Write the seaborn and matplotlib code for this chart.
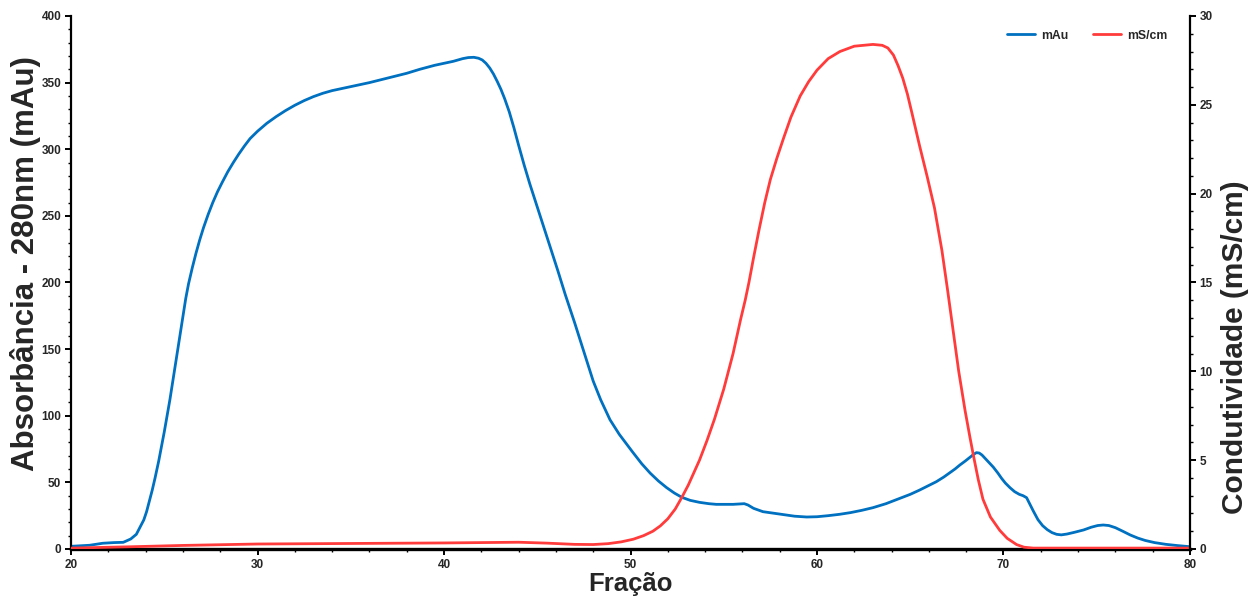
import matplotlib
matplotlib.use("Agg")
import matplotlib.pyplot as plt
from matplotlib.ticker import MultipleLocator
import seaborn as sns
import pandas as pd

# Absorbance trace (mAu) versus fraction number
fracao_mau = [20.0, 21.0, 21.7, 22.3, 22.8, 23.2, 23.5, 23.9, 24.05, 24.2, 24.35, 24.5,
              24.7, 24.85, 25.0, 25.15, 25.3, 25.5, 25.7, 25.85, 26.0, 26.15, 26.3, 26.5,
              26.7, 26.9, 27.1, 27.35, 27.6, 27.85, 28.1, 28.4, 28.7, 29.0, 29.3, 29.6,
              30.0, 30.5, 31.0, 31.5, 32.0, 32.5, 33.0, 33.5, 34.0, 35.0, 36.0, 37.0,
              38.0, 38.7, 39.5, 40.5, 41.0, 41.3, 41.6, 41.85, 42.05, 42.25, 42.45, 42.65,
              42.85, 43.05, 43.25, 43.5, 43.75, 44.0, 44.3, 44.6, 44.9, 45.2, 45.5, 45.8,
              46.1, 46.5, 47.0, 47.5, 48.0, 48.4, 48.9, 49.4, 50.1, 50.6, 51.05, 51.5,
              51.94, 52.35, 52.75, 53.2, 53.7, 54.2, 54.6, 55.5, 56.1, 56.3, 56.6, 57.1,
              57.6, 58.2, 58.8, 59.45, 60.0, 60.6, 61.2, 61.8, 62.4, 63.0, 63.7, 64.45,
              65.0, 65.5, 66.0, 66.4, 66.8, 67.1, 67.4, 67.66, 67.95, 68.2, 68.4, 68.55,
              68.7, 68.85, 69.05, 69.25, 69.45, 69.7, 69.9, 70.1, 70.35, 70.6, 70.85, 71.05,
              71.24, 71.4, 71.6, 71.85, 72.1, 72.35, 72.6, 72.85, 73.1, 73.4, 73.8, 74.3,
              74.7, 75.05, 75.35, 75.65, 76.0, 76.4, 76.8, 77.2, 77.6, 78.1, 78.7, 79.3,
              80.0]
mau = [2.0, 2.8, 4.3, 4.8, 5.0, 7.5, 11.0, 21.8, 28.0, 36.0, 44.0, 53.0,
       66.0, 77.0, 88.0, 100.0, 112.0, 130.0, 148.0, 162.0, 175.0, 188.0, 199.0, 211.0,
       222.0, 232.0, 241.0, 251.0, 260.0, 268.0, 275.0, 283.0, 290.0, 296.5, 302.5, 308.0,
       313.5, 319.5, 324.5, 329.0, 333.0, 336.5, 339.5, 342.0, 344.0, 347.0, 350.0, 353.5,
       357.0, 360.0, 363.0, 366.0, 368.0, 368.8, 369.0, 368.3, 367.0, 364.5, 361.0, 356.5,
       351.0, 345.0, 338.0, 328.0, 316.0, 303.0, 288.0, 274.0, 261.0, 248.0, 235.0, 222.0,
       209.0, 191.0, 170.0, 148.0, 126.0, 112.0, 97.0, 86.0, 73.0, 64.0, 57.0, 51.0,
       46.0, 42.0, 38.8, 36.5, 35.0, 34.0, 33.5, 33.5, 34.0, 33.0, 30.5, 28.0,
       27.0, 25.8, 24.6, 24.0, 24.2, 25.0, 26.0, 27.3, 29.0, 31.0, 34.0, 38.0,
       41.0, 44.2, 47.7, 50.5, 54.0, 57.0, 60.0, 63.0, 66.0, 68.8, 71.0, 72.3,
       72.0, 70.5, 67.5, 64.5, 61.5, 57.0, 53.0, 49.5, 46.0, 43.0, 41.0, 40.0,
       38.5, 34.0, 28.5, 22.0, 17.5, 14.5, 12.3, 11.0, 10.6, 11.2, 12.5, 14.3,
       16.3, 17.6, 18.0, 17.6, 16.0, 13.3, 10.5, 8.2, 6.4, 4.8, 3.5, 2.6,
       1.7]

# Conductivity trace (mS/cm) versus fraction number
fracao_ms = [20.0, 23.0, 26.0, 30.0, 35.0, 40.0, 44.0, 45.5, 47.0, 48.0, 48.8, 49.5,
             50.15, 50.7, 51.2, 51.6, 52.0, 52.4, 52.75, 53.1, 53.4, 53.7, 54.1, 54.5,
             55.0, 55.5, 55.9, 56.15, 56.35, 56.6, 56.9, 57.2, 57.5, 57.85, 58.2, 58.6,
             59.1, 59.55, 60.0, 60.6, 61.23, 62.0, 63.0, 63.5, 63.8, 64.1, 64.35, 64.6,
             64.85, 65.1, 65.5, 65.9, 66.3, 66.7, 67.0, 67.3, 67.6, 67.94, 68.2, 68.4,
             68.65, 68.9, 69.3, 69.8, 70.2, 70.7, 71.1, 71.6, 80.0]
ms = [0.05, 0.12, 0.2, 0.28, 0.31, 0.34, 0.38, 0.33, 0.26, 0.25, 0.3, 0.4,
      0.55, 0.75, 1.0, 1.3, 1.7, 2.25, 2.9, 3.6, 4.3, 5.0, 6.1, 7.3,
      9.0, 11.0, 12.9, 14.0, 15.0, 16.4, 18.0, 19.5, 20.8, 22.0, 23.1, 24.3,
      25.5, 26.3, 26.95, 27.6, 28.0, 28.3, 28.4, 28.35, 28.2, 27.8, 27.2, 26.5,
      25.6, 24.5, 22.7, 21.0, 19.2, 16.8, 14.6, 12.3, 10.0, 7.8, 6.3, 5.2,
      3.9, 2.8, 1.8, 1.05, 0.6, 0.25, 0.1, 0.05, 0.05]

blue = "#0070C0"
red = "#FF3B3B"

sns.set_theme(style="white")
plt.rcParams["font.family"] = ["Liberation Sans", "DejaVu Sans"]
plt.rcParams["font.weight"] = "bold"

df_mau = pd.DataFrame({"Fração": fracao_mau, "mAu": mau})
df_ms = pd.DataFrame({"Fração": fracao_ms, "mS/cm": ms})

fig = plt.figure(figsize=(12.51, 5.99), dpi=100)
ax = fig.add_axes([0.0568, 0.0835, 0.8944, 0.8898])
ax2 = ax.twinx()

line_kw = dict(lw=2.0, solid_joinstyle="round", solid_capstyle="round")
sns.lineplot(data=df_mau, x="Fração", y="mAu", ax=ax, color=blue,
             label="mAu", legend=False, sort=False, **line_kw)
sns.lineplot(data=df_ms, x="Fração", y="mS/cm", ax=ax2, color=red,
             label="mS/cm", legend=False, sort=False, **line_kw)

ax.set_xlim(20, 80)
ax.set_ylim(0, 400)
ax2.set_ylim(0, 30)

ax.xaxis.set_major_locator(MultipleLocator(10))
ax.xaxis.set_minor_locator(MultipleLocator(2))
ax.yaxis.set_major_locator(MultipleLocator(50))
ax.yaxis.set_minor_locator(MultipleLocator(10))
ax2.yaxis.set_major_locator(MultipleLocator(5))
ax2.yaxis.set_minor_locator(MultipleLocator(1))

for a in (ax, ax2):
    for s in a.spines.values():
        s.set_color("black")
        s.set_linewidth(1.6)
    a.spines["top"].set_visible(False)
    a.tick_params(which="major", direction="out", length=4, width=1.4,
                  color="black", labelsize=8.5, pad=3)
    a.tick_params(which="minor", direction="out", length=2.5, width=1.0,
                  color="black")
ax.spines["bottom"].set_linewidth(2.4)
ax.spines["right"].set_visible(False)
ax2.spines["left"].set_visible(False)
ax2.spines["bottom"].set_visible(False)
ax.tick_params(axis="x", which="both", bottom=True)
ax.tick_params(axis="y", which="both", left=True)
ax2.tick_params(axis="y", which="both", right=True)

for lab in ax.get_xticklabels() + ax.get_yticklabels() + ax2.get_yticklabels():
    lab.set_fontweight("bold")

ax.set_xlabel("Fração", fontsize=18.5, fontweight="bold", labelpad=1)
ax.set_ylabel("Absorbância - 280nm (mAu)", fontsize=22.5, fontweight="bold")
ax.yaxis.set_label_coords(-0.027, 0.536)
ax2.set_ylabel("Condutividade (mS/cm)", fontsize=21.5, fontweight="bold")
ax2.yaxis.set_label_coords(1.0275, 0.379)

handles = ax.get_lines()[:1] + ax2.get_lines()[:1]
leg = ax2.legend(handles, ["mAu", "mS/cm"], loc="upper right",
                 bbox_to_anchor=(0.99, 0.995), ncol=2, frameon=False,
                 fontsize=8.8, handlelength=2.3, columnspacing=2.0,
                 handletextpad=0.5)
for t in leg.get_texts():
    t.set_fontweight("bold")

fig.savefig("out.png", dpi=100)
